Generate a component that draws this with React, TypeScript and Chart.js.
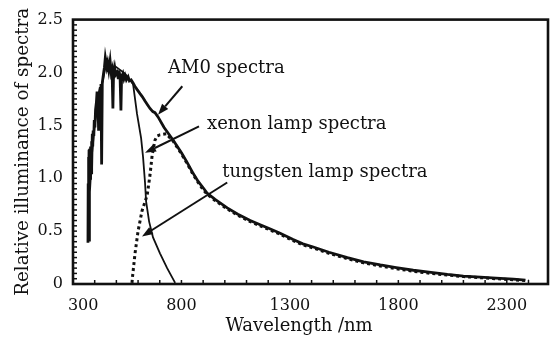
import React, { useEffect, useRef } from "react";
import { Chart, registerables } from "chart.js";

Chart.register(...registerables);

// ---- Data ----
const am0Wavelength = [
  369, 370, 371, 372, 373, 374, 375, 376, 377, 378, 380, 381, 383, 385, 387, 389, 391, 393, 396, 398,
  401, 404, 408, 411, 415, 418, 420, 425,
  429, 432, 435, 440, 445, 449, 452, 456, 460, 465, 471, 476, 480, 484, 487, 492, 497, 503, 508, 512,
  517, 521, 524, 530, 535, 540, 546, 554, 560, 568, 577, 585, 595, 609, 620, 632, 645, 655, 668, 678,
  692, 720, 762, 800, 826, 850, 877, 900, 918, 955, 1011, 1060, 1117, 1163, 1210, 1255, 1315, 1360,
  1408, 1480, 1565, 1640, 1717, 1790, 1869, 1950, 2026, 2100, 2178, 2250, 2331, 2386,
];
const am0Values = [
  0.39, 0.95, 0.7, 1.2, 0.9, 1.27, 0.95, 1.25, 0.9, 1.28, 1.0, 1.3, 1.05, 1.35, 1.1, 1.42, 1.3, 1.45, 1.4, 1.55,
  1.48, 1.65, 1.72, 1.82, 1.75, 1.45, 1.8, 1.85,
  1.89, 1.13, 1.9, 1.98, 2.05, 2.14, 2.1, 2.05, 2.09, 2.02, 2.11, 2.0, 2.03, 1.66, 2.0, 2.05, 1.98, 2.0, 1.95, 2.02,
  1.96, 1.64, 1.96, 1.99, 1.94, 1.97, 1.93, 1.96, 1.92, 1.93, 1.9, 1.87, 1.84, 1.8, 1.77, 1.73, 1.69, 1.66, 1.63, 1.62,
  1.58, 1.48, 1.36, 1.24, 1.15, 1.06, 0.97, 0.91, 0.86, 0.8, 0.72, 0.66, 0.6, 0.56, 0.52, 0.48, 0.42, 0.38,
  0.35, 0.3, 0.25, 0.21, 0.18, 0.155, 0.13, 0.11, 0.09, 0.075, 0.065, 0.055, 0.046, 0.037,
];

const xenonWavelength = [374, 378, 388, 401, 425, 448, 494, 540, 577, 595, 614, 623, 632, 637, 651, 669, 701, 734, 771];
const xenonValues = [0.41, 0.87, 1.24, 1.52, 1.8, 2.03, 2.06, 1.99, 1.89, 1.61, 1.38, 1.2, 0.96, 0.78, 0.59, 0.44, 0.29, 0.15, 0.01];

const tungstenWavelength = [
  572, 574, 586, 600, 618, 642, 655, 665, 678, 688, 700, 730, 762, 800, 826, 850, 877, 900, 918, 955,
  1011, 1060, 1117, 1163, 1210, 1255, 1315, 1360, 1408, 1480, 1565, 1640, 1717, 1790, 1869, 1950,
  2026, 2100, 2178, 2250, 2331, 2400,
];
const tungstenValues = [
  0.01, 0.06, 0.29, 0.5, 0.69, 0.84, 1.03, 1.22, 1.36, 1.4, 1.41, 1.42, 1.35, 1.23, 1.14, 1.05, 0.96, 0.89, 0.85, 0.79,
  0.71, 0.65, 0.59, 0.55, 0.51, 0.47, 0.41, 0.37, 0.34, 0.29, 0.24, 0.2, 0.17, 0.145, 0.12, 0.1,
  0.085, 0.07, 0.06, 0.05, 0.04, 0.03,
];

const xTickValues = [300, 800, 1300, 1800, 2300];
const xTickLabels = ["\u2007\u2007300", "800", "1300", "1800", "2300"];
const yTickValues = [0, 0.5, 1.0, 1.5, 2.0, 2.5];
const yTickLabels = ["0", "0.5", "1.0", "1.5", "2.0", "2.5"];

const xTitle = "Wavelength /nm\u2007\u2007";
const yTitle = "Relative illuminance of spectra";

const annotationTexts = ["AM0 spectra", "xenon lamp spectra", "tungsten lamp spectra"];
// annotation anchors in data units
const annotationTextX = [738, 918, 988];
const annotationTextY = [2.04, 1.51, 1.06];
const arrowFromX = [804, 881, 1011];
const arrowFromY = [1.87, 1.49, 0.96];
const arrowToX = [692, 632, 618];
const arrowToY = [1.6, 1.24, 0.45];

const FONT = "'DejaVu Serif', serif";
const INK = "#111";

const toXY = (xs: number[], ys: number[]) => xs.map((x, i) => ({ x, y: ys[i] }));

const framePlugin = {
  id: "frameAndTicks",
  afterDatasetsDraw(chart: any) {
    const { ctx, chartArea } = chart;
    const xs = chart.scales.x;
    const ys = chart.scales.y;
    ctx.save();
    ctx.strokeStyle = INK;
    // minor inward ticks
    ctx.lineWidth = 1.5;
    for (let v = 400; v <= 2400; v += 100) {
      const px = xs.getPixelForValue(v);
      ctx.beginPath();
      ctx.moveTo(px, chartArea.bottom);
      ctx.lineTo(px, chartArea.bottom - 4);
      ctx.stroke();
    }
    for (let k = 1; k < 50; k++) {
      const py = ys.getPixelForValue(k * 0.05);
      ctx.beginPath();
      ctx.moveTo(chartArea.left, py);
      ctx.lineTo(chartArea.left + 4, py);
      ctx.stroke();
    }
    // frame
    ctx.lineWidth = 2.6;
    ctx.strokeRect(chartArea.left, chartArea.top, chartArea.right - chartArea.left, chartArea.bottom - chartArea.top);

    // annotations
    ctx.fillStyle = INK;
    ctx.font = `18px ${FONT}`;
    ctx.textAlign = "left";
    ctx.textBaseline = "middle";
    for (let i = 0; i < annotationTexts.length; i++) {
      ctx.fillText(annotationTexts[i], xs.getPixelForValue(annotationTextX[i]), ys.getPixelForValue(annotationTextY[i]));
      const x1 = xs.getPixelForValue(arrowFromX[i]);
      const y1 = ys.getPixelForValue(arrowFromY[i]);
      const x2 = xs.getPixelForValue(arrowToX[i]);
      const y2 = ys.getPixelForValue(arrowToY[i]);
      const ang = Math.atan2(y2 - y1, x2 - x1);
      const headLen = 11;
      const headHalf = 4;
      const bx = x2 - headLen * Math.cos(ang);
      const by = y2 - headLen * Math.sin(ang);
      ctx.lineWidth = 2;
      ctx.beginPath();
      ctx.moveTo(x1, y1);
      ctx.lineTo(bx, by);
      ctx.stroke();
      ctx.beginPath();
      ctx.moveTo(x2, y2);
      ctx.lineTo(bx + headHalf * Math.sin(ang), by - headHalf * Math.cos(ang));
      ctx.lineTo(bx - headHalf * Math.sin(ang), by + headHalf * Math.cos(ang));
      ctx.closePath();
      ctx.fill();
    }
    ctx.restore();
  },
};

export default function App() {
  const canvasRef = useRef<HTMLCanvasElement | null>(null);

  useEffect(() => {
    if (!canvasRef.current) return;
    const chart = new Chart(canvasRef.current, {
      type: "line",
      data: {
        datasets: [
          {
            label: "AM0 spectra",
            data: toXY(am0Wavelength, am0Values),
            borderColor: INK,
            borderWidth: 2.8,
            pointRadius: 0,
            tension: 0,
          },
          {
            label: "xenon lamp spectra",
            data: toXY(xenonWavelength, xenonValues),
            borderColor: INK,
            borderWidth: 1.8,
            pointRadius: 0,
            tension: 0,
          },
          {
            label: "tungsten lamp spectra",
            data: toXY(tungstenWavelength, tungstenValues),
            borderColor: INK,
            borderWidth: 3,
            borderDash: [3, 3],
            pointRadius: 0,
            tension: 0,
          },
        ],
      },
      options: {
        animation: false,
        responsive: false,
        maintainAspectRatio: false,
        layout: { padding: { left: 0, top: 14.5, right: 10, bottom: 0 } },
        plugins: { legend: { display: false }, tooltip: { enabled: false } },
        scales: {
          x: {
            type: "linear",
            min: 300,
            max: 2490,
            afterBuildTicks: (scale: any) => {
              scale.ticks = xTickValues.map((v) => ({ value: v }));
            },
            afterFit: (scale: any) => {
              scale.height = 58;
            },
            grid: { display: false, drawTicks: false },
            border: { display: false },
            ticks: {
              color: INK,
              font: { family: FONT, size: 16 },
              padding: 12,
              maxRotation: 0,
              autoSkip: false,
              callback: (v: any) => {
                const idx = xTickValues.indexOf(Number(v));
                return idx >= 0 ? xTickLabels[idx] : "";
              },
            },
            title: {
              display: true,
              text: xTitle,
              color: INK,
              font: { family: FONT, size: 18 },
              padding: { top: 0, bottom: 5 },
            },
          },
          y: {
            type: "linear",
            min: 0,
            max: 2.5,
            afterBuildTicks: (scale: any) => {
              scale.ticks = yTickValues.map((v) => ({ value: v }));
            },
            afterFit: (scale: any) => {
              scale.width = 73;
            },
            grid: { display: false, drawTicks: false },
            border: { display: false },
            ticks: {
              color: INK,
              font: { family: FONT, size: 16 },
              padding: 10,
              callback: (v: any) => {
                const idx = yTickValues.indexOf(Number(v));
                return idx >= 0 ? yTickLabels[idx] : "";
              },
            },
            title: {
              display: true,
              text: yTitle,
              color: INK,
              font: { family: FONT, size: 18.3 },
              padding: { top: 12, bottom: 0 },
            },
          },
        },
      },
      plugins: [framePlugin],
    });
    return () => chart.destroy();
  }, []);

  return (
    <div style={{ position: "fixed", left: 0, top: 0, width: 558, height: 342, background: "#fff" }}>
      <canvas ref={canvasRef} width={558} height={342} style={{ width: 558, height: 342, display: "block" }} />
    </div>
  );
}
